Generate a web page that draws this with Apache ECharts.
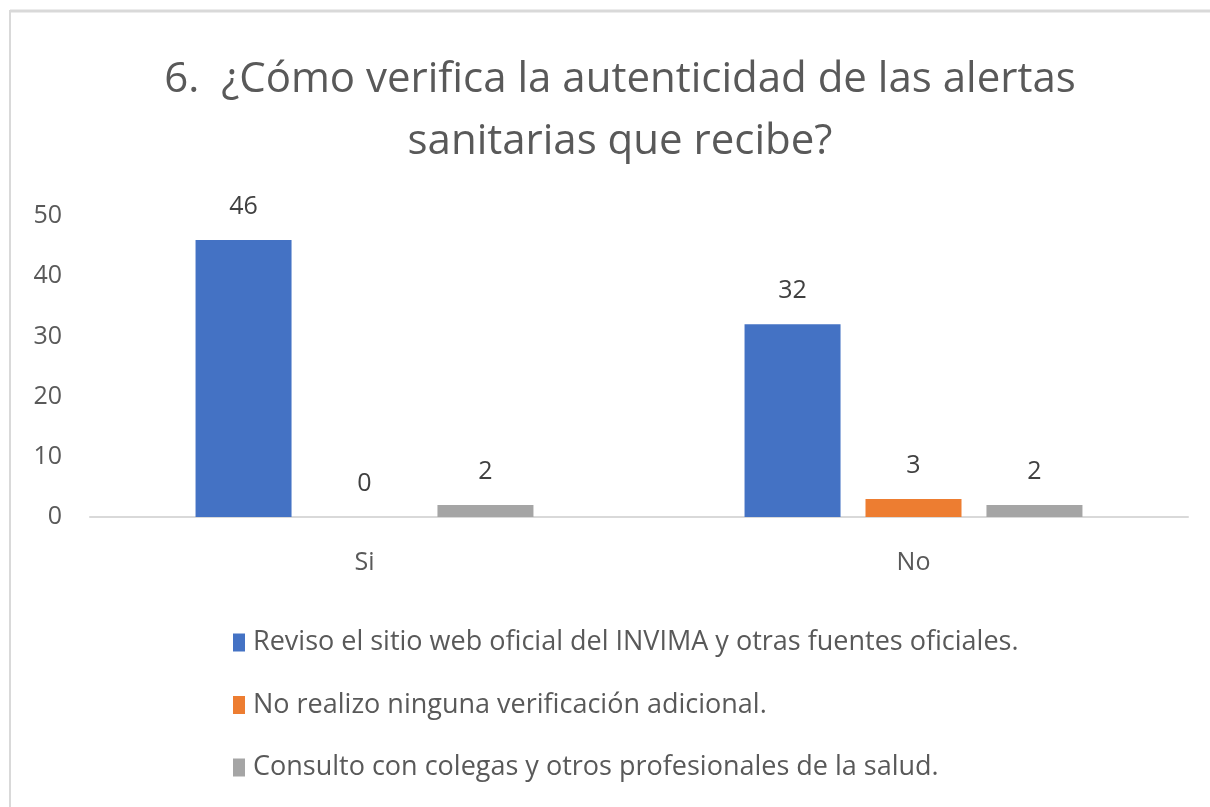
<!DOCTYPE html>
<html lang="es">
<head>
    <meta charset="UTF-8">
    <title>Alertas sanitarias</title>
    <style>
        body { margin: 0; background: #fff; }
        #chart { width: 1210px; height: 807px; }
    </style>
</head>
<body>
<div id="chart"></div>
<script src="https://cdn.jsdelivr.net/npm/echarts@6/dist/echarts.min.js"></script>
<script>
    var categories = ['Si', 'No'];
    var seriesNames = [
        'Reviso el sitio web oficial del INVIMA y otras fuentes oficiales.',
        'No realizo ninguna verificación adicional.',
        'Consulto con colegas y otros profesionales de la salud.'
    ];
    var revisoValues = [46, 32];
    var noVerificaValues = [0, 3];
    var consultoValues = [2, 2];
    var colors = ['#4472c4', '#ed7d31', '#a5a5a5'];

    var fontFam = "'Open Sans', sans-serif";
    var chart = echarts.init(document.getElementById('chart'), null, {renderer: 'canvas'});

    var makeSeries = function (name, data, color) {
        return {
            name: name,
            type: 'bar',
            data: data,
            barWidth: 96,
            barGap: '26%',
            itemStyle: { color: color },
            label: {
                show: true,
                position: 'top',
                distance: 21,
                color: '#404040',
                fontSize: 25,
                fontFamily: fontFam
            }
        };
    };

    chart.setOption({
        animation: false,
        backgroundColor: '#fff',
        title: {
            text: '6.  ¿Cómo verifica la autenticidad de las alertas\nsanitarias que recibe?',
            left: 615,
            textAlign: 'center',
            top: 44,
            textStyle: {
                color: '#595959',
                fontSize: 42,
                fontWeight: 'normal',
                fontFamily: fontFam,
                lineHeight: 62
            }
        },
        graphic: [
            { type: 'line', shape: { x1: 10, y1: 11, x2: 1210, y2: 11 }, style: { stroke: '#d9d9d9', lineWidth: 3 } },
            { type: 'line', shape: { x1: 10, y1: 10, x2: 10, y2: 807 }, style: { stroke: '#d9d9d9', lineWidth: 2 } }
        ],
        legend: {
            orient: 'vertical',
            left: 228,
            top: 624,
            itemWidth: 12,
            itemHeight: 18,
            itemGap: 35.5,
            icon: 'rect',
            data: seriesNames,
            textStyle: { color: '#595959', fontSize: 27, fontFamily: fontFam, padding: [0, 0, 0, 3] }
        },
        grid: { left: 90, right: 22, top: 216, bottom: 290, containLabel: false },
        xAxis: {
            type: 'category',
            data: categories,
            axisLine: { lineStyle: { color: '#d9d9d9', width: 2 } },
            axisTick: { show: false },
            axisLabel: { color: '#595959', fontSize: 25, fontFamily: fontFam, margin: 33 }
        },
        yAxis: {
            type: 'value',
            min: 0,
            max: 50,
            interval: 10,
            splitLine: { show: false },
            axisLine: { show: false },
            axisTick: { show: false },
            axisLabel: { color: '#595959', fontSize: 25, fontFamily: fontFam, margin: 28 }
        },
        series: [
            makeSeries(seriesNames[0], revisoValues, colors[0]),
            makeSeries(seriesNames[1], noVerificaValues, colors[1]),
            makeSeries(seriesNames[2], consultoValues, colors[2])
        ]
    });
</script>
</body>
</html>
